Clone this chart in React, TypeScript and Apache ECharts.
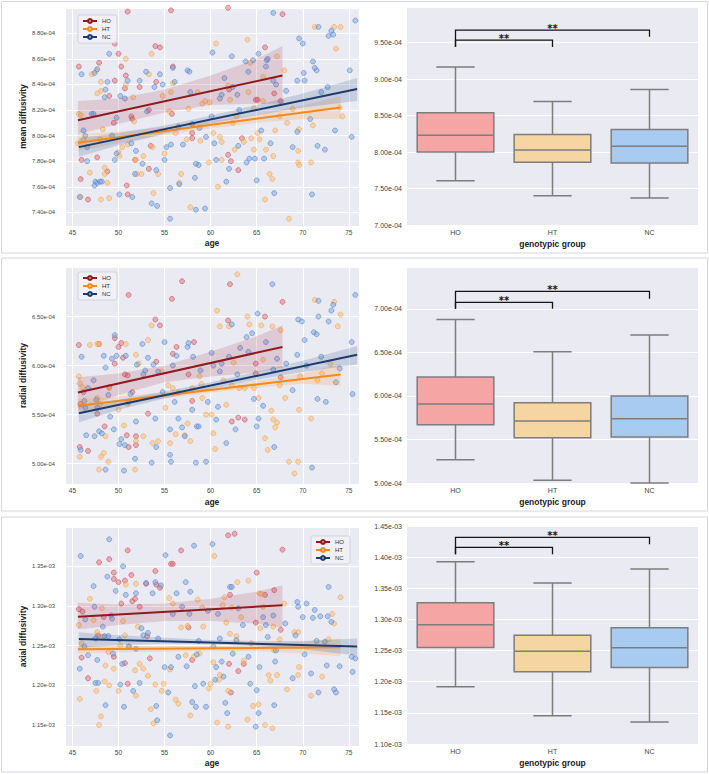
import React, { useEffect, useRef } from 'react';
import * as echarts from 'echarts';

const FONT = '"Liberation Sans", Arial, sans-serif';
const GROUPS = ['HO', 'HT', 'NC'];

// ---------- tick labels ----------
const AGE_TICKS = [45, 50, 55, 60, 65, 70, 75];
const MD_SCATTER_TICKS = [7.4, 7.6, 7.8, 8.0, 8.2, 8.4, 8.6, 8.8];
const RD_SCATTER_TICKS = [5.0, 5.5, 6.0, 6.5];
const AD_SCATTER_TICKS = [1.15, 1.2, 1.25, 1.3, 1.35];
const MD_BOX_TICKS = [7.0, 7.5, 8.0, 8.5, 9.0, 9.5];
const RD_BOX_TICKS = [5.0, 5.5, 6.0, 6.5, 7.0];
const AD_BOX_TICKS = [1.1, 1.15, 1.2, 1.25, 1.3, 1.35, 1.4, 1.45];

// ---------- mean diffusivity (x1e-4) ----------
const md_HO = [[45.7,8.54],[45.9,7.66],[46.0,7.81],[46.7,7.50],[47.9,8.57],[47.7,7.83],[49.6,8.72],[49.6,8.43],[49.0,8.31],[49.5,8.10],[48.8,7.72],[50.0,8.64],[50.3,8.54],[51.0,8.97],[50.8,8.47],[50.7,8.37],[50.9,7.61],[51.0,7.54],[51.4,8.15],[51.5,8.13],[51.8,7.81],[52.3,8.38],[53.3,8.20],[53.5,7.92],[53.3,7.74],[54.0,8.70],[54.5,8.69],[54.1,8.42],[55.7,8.98],[55.9,8.54],[55.8,8.17],[58.0,8.02],[58.0,7.98],[58.0,8.09],[61.9,9.00],[61.9,7.85],[62.2,7.80],[62.0,8.36],[63.0,7.73],[63.4,7.98],[65.9,8.69],[64.9,8.28],[65.1,8.28],[66.9,8.33],[67.6,8.27],[67.8,8.95]];
const md_HT = [[45.7,8.17],[45.9,8.16],[45.6,7.94],[46.2,7.97],[45.9,7.52],[46.9,7.71],[47.1,8.48],[47.6,8.51],[47.7,8.33],[48.1,8.35],[48.1,8.42],[48.3,8.05],[48.0,7.97],[48.5,7.75],[48.5,7.70],[48.8,7.63],[48.1,7.50],[49.0,7.51],[50.1,7.84],[50.0,7.87],[50.8,8.60],[50.8,8.40],[51.0,7.93],[50.4,7.91],[51.6,8.30],[51.7,8.11],[51.9,7.81],[52.0,7.70],[52.5,7.70],[52.7,7.84],[53.3,8.48],[53.6,8.64],[53.8,7.55],[53.7,7.91],[54.3,7.70],[54.8,8.31],[55.0,7.86],[55.5,8.19],[55.7,8.34],[55.9,8.41],[56.2,8.02],[56.6,7.63],[56.8,7.70],[57.4,7.97],[57.6,8.21],[57.8,7.44],[58.6,8.34],[58.9,7.96],[59.1,8.25],[59.4,8.27],[59.8,7.79],[59.9,8.26],[60.3,8.02],[60.6,8.72],[60.8,7.60],[61.0,7.99],[61.2,7.81],[61.2,7.95],[61.9,8.39],[62.1,8.28],[62.4,8.10],[62.6,7.89],[62.8,8.15],[63.6,7.95],[64.0,8.75],[64.1,8.34],[64.3,8.57],[64.4,7.98],[64.7,8.21],[64.7,7.89],[65.1,8.02],[65.3,7.97],[65.7,8.27],[65.9,7.50],[65.7,8.46],[66.0,7.89],[66.4,7.70],[66.7,7.66],[66.8,7.84],[67.0,8.04],[67.2,8.62],[67.5,8.15],[68.0,8.51],[68.3,8.10],[68.5,7.35],[68.9,8.21],[69.5,7.79],[69.6,7.77],[69.5,7.88],[69.6,8.05],[70.9,7.79],[71.1,8.08],[71.3,8.85],[73.6,8.68],[73.4,8.85],[74.1,8.85],[74.0,8.22],[74.3,8.15]];
const md_NC = [[46.0,8.48],[45.8,7.52],[46.2,8.04],[46.4,8.00],[46.6,7.80],[46.6,7.91],[47.1,8.17],[47.3,8.17],[47.4,8.49],[47.7,8.52],[47.5,7.64],[47.7,7.63],[48.0,7.64],[48.2,7.64],[47.4,7.61],[48.5,8.30],[48.6,8.36],[48.8,8.42],[49.0,8.64],[49.3,8.00],[49.6,7.81],[49.8,8.14],[49.8,7.86],[50.1,7.54],[50.2,8.31],[50.7,8.29],[51.0,8.43],[51.4,7.94],[51.5,7.52],[51.8,7.70],[51.9,7.88],[52.3,8.43],[52.6,7.78],[53.0,8.50],[53.1,8.19],[53.6,7.47],[53.9,8.38],[54.1,7.73],[54.2,7.45],[54.5,8.48],[54.8,8.40],[55.0,7.81],[55.2,7.91],[55.6,7.35],[55.6,7.59],[55.7,7.93],[55.9,8.53],[56.1,8.42],[56.5,8.07],[56.6,7.62],[57.0,7.93],[57.5,8.51],[57.7,8.50],[57.8,8.34],[58.3,7.67],[58.4,7.42],[58.4,7.78],[58.7,7.77],[58.8,8.06],[59.4,7.43],[59.5,7.99],[60.1,8.15],[60.2,8.65],[60.4,7.94],[60.6,7.81],[61.0,8.29],[61.2,8.32],[61.5,8.45],[61.7,7.64],[62.0,7.74],[62.3,8.62],[62.4,8.38],[62.9,8.32],[63.0,7.92],[63.1,8.20],[63.8,8.58],[63.9,7.79],[64.1,8.50],[64.2,7.82],[64.6,8.59],[64.8,7.82],[65.0,7.65],[65.2,8.64],[65.5,8.04],[65.8,7.82],[66.0,8.54],[66.1,8.59],[66.2,8.60],[66.5,7.94],[66.8,8.96],[66.8,8.43],[66.9,7.55],[67.1,8.40],[68.2,8.35],[68.9,7.91],[69.4,8.03],[69.4,8.43],[69.6,8.76],[70.0,8.72],[70.1,8.49],[70.2,8.43],[70.8,8.13],[71.0,7.54],[71.1,8.58],[71.3,8.53],[71.5,8.51],[71.6,7.92],[71.7,8.85],[72.0,8.34],[72.4,7.89],[72.7,8.38],[72.8,8.78],[73.1,8.82],[73.3,8.79],[73.5,8.04],[75.1,8.51],[75.3,7.99],[75.7,8.90]];
const md_line_HO = [[45.6, 8.12], [67.8, 8.47]];
const md_line_HT = [[45.6, 7.945], [74.1, 8.22]];
const md_line_NC = [[45.7, 7.91], [75.9, 8.365]];
const md_band_HO = [[45.6,8.01,8.27],[50,8.09,8.29],[55,8.18,8.36],[60,8.24,8.47],[65,8.25,8.60],[67.8,8.25,8.70]];
const md_band_HT = [[45.6,7.88,8.01],[50,7.94,8.03],[55,8.005,8.065],[60,8.055,8.11],[65,8.10,8.165],[70,8.13,8.235],[74.1,8.13,8.31]];
const md_band_NC = [[45.7,7.835,7.98],[50,7.925,8.02],[55,8.015,8.08],[60,8.095,8.155],[65,8.16,8.24],[70,8.22,8.33],[75.9,8.27,8.45]];
const md_box = [[7.606, 8.00, 8.23, 8.538, 9.167], [7.40, 7.86, 8.03, 8.24, 8.694], [7.37, 7.85, 8.08, 8.31, 8.86]];
const md_brackets = [[0, 1, 9.537, 9.44, 9.44], [0, 2, 9.674, 9.44, 9.583]];

// ---------- radial diffusivity (x1e-4) ----------
const rd_HO = [[45.7,6.21],[45.8,5.17],[45.9,5.61],[46.2,5.73],[46.7,5.13],[47.9,6.22],[47.7,5.51],[48.5,5.38],[49.0,5.78],[49.6,6.02],[49.6,6.28],[50.0,6.19],[50.3,6.23],[50.5,6.08],[50.7,5.91],[51.0,5.90],[51.1,6.72],[50.9,5.29],[51.1,5.17],[51.5,5.73],[51.9,5.28],[51.9,5.19],[53.2,5.51],[54.0,6.47],[54.5,6.41],[54.1,6.04],[55.8,6.68],[55.9,6.12],[56.3,6.19],[56.9,6.86],[57.6,5.91],[58.2,6.24],[58.0,5.64],[61.9,6.46],[62.1,6.83],[62.3,5.43],[63.0,5.47],[63.7,5.45],[64.9,6.02],[64.9,5.92],[65.9,6.50],[67.6,5.88],[67.8,6.65]];
const rd_HT = [[45.7,5.89],[45.8,5.82],[45.8,5.07],[46.1,5.78],[46.9,6.21],[47.7,6.22],[47.9,6.22],[47.7,5.67],[47.9,4.94],[48.0,5.61],[48.1,5.07],[48.4,5.11],[48.6,5.28],[48.9,5.02],[49.0,5.77],[50.0,5.55],[50.6,5.39],[50.8,6.22],[51.0,5.61],[51.8,4.94],[51.9,5.23],[51.9,6.11],[52.2,6.02],[52.7,5.28],[53.2,6.26],[53.6,6.41],[53.7,5.21],[54.3,5.23],[54.7,5.94],[55.1,5.57],[55.4,5.80],[55.6,5.21],[55.9,5.77],[56.2,5.30],[56.5,5.73],[57.2,5.29],[57.5,5.41],[57.8,5.23],[58.0,5.77],[58.8,5.89],[59.0,5.81],[59.1,5.67],[59.5,5.50],[60.1,5.50],[60.3,5.31],[60.5,5.15],[60.7,6.56],[61.0,6.40],[61.4,5.85],[61.7,5.60],[62.0,6.40],[62.3,5.80],[62.5,6.03],[62.9,6.93],[63.1,5.77],[63.7,5.77],[64.0,6.50],[64.2,6.42],[64.7,5.77],[65.2,5.67],[65.5,6.41],[65.7,6.06],[65.9,5.26],[66.2,5.14],[66.6,5.54],[66.7,6.40],[66.8,5.45],[67.0,5.37],[67.2,5.42],[67.5,5.80],[67.6,6.36],[68.1,5.67],[68.5,5.02],[69.1,4.90],[69.5,5.02],[69.6,5.55],[69.7,5.89],[70.9,5.46],[71.3,6.67],[71.6,5.85],[72.1,5.92],[73.0,6.02],[73.4,6.65],[73.8,6.40],[74.1,6.52]];
const rd_NC = [[46.0,6.09],[45.9,5.14],[46.3,5.64],[46.4,5.57],[46.5,5.29],[46.7,5.77],[47.3,5.85],[47.4,5.28],[47.6,5.65],[47.7,5.57],[47.9,5.33],[48.2,5.31],[48.4,6.10],[48.6,5.98],[48.6,4.94],[48.9,5.70],[49.1,5.48],[49.3,6.07],[49.5,5.35],[49.6,6.31],[49.8,6.10],[50.1,5.20],[50.3,5.25],[50.7,5.19],[50.6,4.93],[50.8,6.10],[51.1,5.63],[51.3,5.71],[51.8,5.05],[51.9,5.43],[52.0,6.01],[52.6,6.22],[52.7,5.91],[52.9,5.95],[53.2,6.08],[53.6,5.01],[53.8,6.01],[54.0,5.46],[54.1,5.17],[54.3,5.94],[54.8,5.73],[55.0,6.24],[55.6,5.35],[55.6,5.09],[55.7,5.02],[55.9,6.00],[56.1,5.63],[56.3,6.10],[56.5,5.46],[56.9,5.37],[57.2,5.28],[57.5,6.19],[57.6,6.23],[58.0,5.55],[58.1,6.09],[58.4,5.01],[58.5,5.38],[58.7,5.38],[58.9,5.95],[59.5,5.02],[59.7,5.63],[60.1,6.13],[60.3,6.00],[60.6,5.45],[60.8,5.58],[61.0,5.94],[61.2,6.02],[61.7,5.21],[62.0,6.09],[62.3,6.42],[62.7,5.35],[62.9,5.91],[63.2,6.18],[63.9,6.29],[64.1,6.14],[64.5,6.33],[64.7,5.66],[65.0,5.38],[65.1,6.53],[65.2,5.46],[65.7,5.59],[66.0,6.24],[66.7,6.83],[66.8,5.96],[66.9,5.17],[67.2,6.07],[68.2,6.02],[68.9,5.75],[69.4,6.11],[69.5,6.47],[69.9,6.45],[70.2,6.26],[70.4,6.00],[71.0,4.96],[71.2,6.34],[71.5,6.32],[71.6,5.66],[71.7,6.66],[71.7,6.50],[72.0,6.09],[72.5,5.63],[72.8,6.45],[73.1,6.56],[73.3,6.62],[73.6,5.83],[74.0,5.97],[75.3,6.24],[75.4,5.71],[75.7,6.72]];
const rd_line_HO = [[45.6, 5.725], [67.8, 6.19]];
const rd_line_HT = [[45.6, 5.59], [74.1, 5.91]];
const rd_line_NC = [[45.7, 5.515], [75.9, 6.11]];
const rd_band_HO = [[45.6,5.55,5.88],[50,5.70,5.92],[55,5.83,6.00],[60,5.89,6.14],[65,5.93,6.30],[67.8,5.98,6.41]];
const rd_band_HT = [[45.6,5.525,5.66],[50,5.595,5.685],[55,5.665,5.725],[60,5.725,5.78],[65,5.775,5.845],[70,5.815,5.92],[74.1,5.795,6.02]];
const rd_band_NC = [[45.7,5.42,5.59],[50,5.55,5.65],[55,5.665,5.735],[60,5.765,5.83],[65,5.855,5.935],[70,5.935,6.05],[75.9,6.01,6.20]];
const rd_box = [[5.268, 5.669, 5.906, 6.216, 6.878], [5.031, 5.520, 5.711, 5.922, 6.507], [5.0, 5.528, 5.738, 5.998, 6.698]];
const rd_brackets = [[0, 1, 7.073, 7.0, 7.0], [0, 2, 7.199, 7.0, 7.115]];

// ---------- axial diffusivity (x1e-3) ----------
const ad_HO = [[45.7,1.296],[46.0,1.235],[46.1,1.293],[46.7,1.209],[47.9,1.355],[47.8,1.263],[48.4,1.286],[49.0,1.359],[49.5,1.342],[49.5,1.334],[49.5,1.236],[50.0,1.330],[50.3,1.303],[50.7,1.332],[50.7,1.228],[51.0,1.370],[51.0,1.202],[51.4,1.339],[51.5,1.306],[51.8,1.309],[52.3,1.299],[53.0,1.328],[53.1,1.262],[53.4,1.234],[54.0,1.344],[54.1,1.327],[54.5,1.323],[55.7,1.353],[55.9,1.353],[56.8,1.370],[57.6,1.273],[58.0,1.232],[61.9,1.389],[62.6,1.391],[62.1,1.314],[62.0,1.227],[62.2,1.191],[63.0,1.218],[63.6,1.227],[65.0,1.342],[64.9,1.279],[65.9,1.314],[66.9,1.320],[67.6,1.270],[67.8,1.371]];
const ad_HT = [[45.7,1.276],[45.8,1.183],[46.0,1.253],[46.9,1.309],[47.3,1.282],[47.6,1.193],[47.7,1.267],[47.9,1.150],[48.1,1.161],[48.2,1.297],[48.3,1.261],[48.5,1.205],[48.6,1.225],[48.9,1.242],[49.0,1.200],[49.5,1.221],[50.0,1.193],[50.2,1.250],[50.5,1.281],[50.7,1.263],[50.8,1.327],[51.2,1.249],[51.8,1.219],[51.9,1.328],[51.9,1.187],[52.1,1.274],[52.3,1.227],[52.7,1.221],[53.2,1.212],[53.5,1.170],[53.8,1.152],[54.0,1.201],[54.7,1.193],[54.9,1.202],[55.5,1.310],[55.6,1.220],[55.9,1.303],[56.2,1.182],[56.5,1.177],[56.8,1.273],[57.3,1.238],[57.5,1.275],[57.8,1.162],[58.2,1.236],[58.6,1.308],[58.8,1.240],[59.1,1.298],[59.2,1.274],[59.8,1.196],[60.0,1.202],[60.3,1.229],[60.4,1.363],[60.7,1.153],[60.9,1.207],[61.0,1.213],[61.3,1.301],[61.5,1.311],[61.7,1.279],[61.9,1.148],[61.9,1.193],[62.1,1.265],[62.3,1.298],[62.8,1.262],[62.9,1.330],[63.3,1.286],[63.6,1.231],[64.0,1.157],[64.1,1.332],[64.4,1.253],[64.6,1.174],[65.2,1.176],[65.3,1.316],[65.4,1.272],[65.5,1.315],[65.7,1.299],[65.9,1.150],[66.3,1.213],[66.5,1.206],[66.7,1.146],[66.8,1.274],[66.9,1.244],[67.2,1.213],[67.5,1.258],[68.0,1.303],[68.3,1.195],[69.1,1.267],[69.5,1.267],[69.5,1.213],[69.6,1.223],[70.9,1.187],[72.1,1.211],[72.8,1.258],[73.2,1.290],[73.4,1.278],[74.1,1.311]];
const ad_NC = [[45.9,1.363],[45.8,1.221],[46.3,1.249],[46.4,1.283],[46.7,1.238],[47.3,1.325],[47.4,1.299],[47.5,1.203],[47.8,1.203],[47.5,1.259],[47.7,1.232],[48.3,1.274],[48.5,1.262],[48.6,1.175],[48.8,1.337],[48.9,1.262],[49.0,1.384],[49.2,1.288],[49.3,1.284],[49.4,1.240],[49.7,1.319],[50.1,1.258],[50.2,1.201],[50.4,1.227],[50.5,1.350],[50.6,1.173],[50.8,1.314],[51.1,1.249],[51.6,1.193],[51.9,1.316],[51.9,1.246],[52.3,1.203],[52.5,1.272],[52.7,1.263],[53.0,1.329],[53.2,1.266],[53.7,1.316],[54.0,1.330],[54.1,1.174],[54.2,1.156],[54.3,1.259],[54.6,1.326],[55.0,1.223],[55.1,1.364],[55.4,1.191],[55.6,1.137],[55.7,1.223],[55.9,1.290],[56.3,1.316],[56.5,1.236],[56.9,1.299],[57.3,1.330],[57.4,1.224],[57.7,1.290],[57.8,1.318],[58.0,1.179],[58.2,1.376],[58.3,1.199],[58.4,1.173],[58.5,1.239],[58.7,1.256],[59.2,1.202],[59.5,1.173],[59.7,1.294],[60.2,1.378],[60.3,1.249],[60.5,1.207],[60.6,1.223],[60.8,1.290],[61.0,1.259],[61.2,1.230],[61.4,1.211],[61.6,1.178],[61.8,1.165],[62.1,1.324],[62.3,1.324],[62.4,1.240],[62.8,1.257],[63.0,1.297],[63.5,1.276],[64.1,1.236],[64.3,1.202],[64.9,1.148],[65.0,1.194],[65.2,1.165],[65.3,1.223],[65.7,1.286],[66.0,1.276],[66.2,1.261],[66.8,1.288],[66.9,1.175],[67.0,1.230],[67.1,1.244],[68.1,1.278],[68.9,1.209],[69.2,1.263],[69.4,1.305],[69.5,1.299],[70.0,1.286],[70.2,1.239],[70.4,1.303],[70.9,1.215],[71.1,1.285],[71.3,1.295],[71.5,1.256],[71.7,1.191],[71.9,1.287],[72.4,1.255],[72.6,1.225],[72.7,1.287],[72.8,1.324],[73.1,1.280],[73.4,1.195],[73.6,1.191],[74.0,1.224],[75.3,1.236],[75.4,1.217],[75.7,1.234]];
const ad_line_HO = [[45.6, 1.2865], [67.8, 1.301]];
const ad_line_HT = [[45.6, 1.2455], [74.1, 1.248]];
const ad_line_NC = [[45.7, 1.2585], [75.9, 1.249]];
const ad_band_HO = [[45.6,1.2705,1.304],[50,1.276,1.302],[55,1.281,1.303],[60,1.281,1.309],[65,1.278,1.318],[67.8,1.273,1.326]];
const ad_band_HT = [[45.6,1.2405,1.2505],[55,1.2425,1.2495],[60,1.2435,1.2495],[65,1.243,1.251],[70,1.240,1.255],[74.1,1.237,1.259]];
const ad_band_NC = [[45.7,1.2475,1.267],[50,1.2505,1.263],[55,1.2525,1.260],[60,1.2515,1.257],[65,1.2495,1.256],[70,1.2455,1.256],[75.9,1.2375,1.259]];
const ad_box = [[1.1919, 1.255, 1.2913, 1.3266, 1.3928], [1.1454, 1.216, 1.2491, 1.2747, 1.3586], [1.1353, 1.2229, 1.2544, 1.2865, 1.381]];
const ad_brackets = [[0, 1, 1.4158, 1.4046, 1.4046], [0, 2, 1.4318, 1.4046, 1.4206]];

// ---------- styles ----------
const DOT_FILL: Record<string, string> = { HO: 'rgba(222,104,112,0.6)', HT: 'rgba(252,186,102,0.6)', NC: 'rgba(112,160,222,0.6)' };
const DOT_EDGE: Record<string, string> = { HO: 'rgba(200,72,82,0.85)', HT: 'rgba(240,160,70,0.85)', NC: 'rgba(80,128,200,0.85)' };
const LINE_COLOR: Record<string, string> = { HO: '#8e1b1f', HT: '#f28a1c', NC: '#1d3c6c' };
const BAND_COLOR: Record<string, string> = { HO: 'rgba(160,50,70,0.17)', HT: 'rgba(245,150,50,0.2)', NC: 'rgba(50,90,150,0.2)' };
const LEGEND_FILL: Record<string, string> = { HO: '#e49a9e', HT: '#fbcf95', NC: '#9dbfe6' };
const BOX_FILL = ['#f4a5a4', '#f5d5a1', '#a8ccf1'];
const BOX_EDGE = '#7d7d7d';
const BG = '#eaeaf2';

const inTicks = (ticks: number[], v: number) => ticks.some((t) => Math.abs(t - v) < 1e-6);

function scatterX(g: number, nameGap: number) {
  return {
    type: 'value', gridIndex: g, min: 44.2, max: 76.1, minInterval: 5, maxInterval: 5,
    name: 'age', nameLocation: 'middle', nameGap,
    nameTextStyle: { fontWeight: 'bold', fontSize: 8.5, color: '#222', fontFamily: FONT },
    axisLine: { show: false }, axisTick: { show: false },
    axisLabel: { fontSize: 6.5, color: '#444', margin: 2.5, fontFamily: FONT,
      formatter: (v: number) => (inTicks(AGE_TICKS, v) ? String(Math.round(v)) : '') },
    splitLine: { show: true, lineStyle: { color: '#ffffff', width: 1 } },
  };
}
function scatterY(g: number, min: number, max: number, step: number, ticks: number[], exp: string, name: string) {
  return {
    type: 'value', gridIndex: g, min, max, minInterval: step, maxInterval: step,
    name, nameLocation: 'middle', nameGap: 38,
    nameTextStyle: { fontWeight: 'bold', fontSize: 8.5, color: '#222', fontFamily: FONT },
    axisLine: { show: false }, axisTick: { show: false },
    axisLabel: { fontSize: 5.8, color: '#444', margin: 10, fontFamily: FONT,
      formatter: (v: number) => (inTicks(ticks, v) ? v.toFixed(2) + exp : '') },
    splitLine: { show: true, lineStyle: { color: '#ffffff', width: 1 } },
  };
}
function boxX(g: number) {
  return {
    type: 'category', gridIndex: g, data: GROUPS,
    name: 'genotypic group', nameLocation: 'middle', nameGap: 14,
    nameTextStyle: { fontWeight: 'bold', fontSize: 8.5, color: '#222', fontFamily: FONT },
    axisLine: { show: false }, axisTick: { show: false },
    axisLabel: { fontSize: 7, color: '#444', margin: 4, fontFamily: FONT },
    splitLine: { show: false },
  };
}
function boxY(g: number, min: number, max: number, step: number, ticks: number[], exp: string) {
  return {
    type: 'value', gridIndex: g, min, max, minInterval: step, maxInterval: step,
    axisLine: { show: false }, axisTick: { show: false },
    axisLabel: { fontSize: 7, color: '#444', margin: 5, fontFamily: FONT,
      formatter: (v: number) => (inTicks(ticks, v) ? v.toFixed(2) + exp : '') },
    splitLine: { show: true, lineStyle: { color: '#ffffff', width: 1 } },
  };
}

function scatterSeries(g: number, key: string, data: number[][]) {
  return {
    type: 'scatter', name: key + ' subjects', xAxisIndex: g, yAxisIndex: g, data, symbolSize: 5, z: 2, silent: true,
    itemStyle: { color: DOT_FILL[key], borderColor: DOT_EDGE[key], borderWidth: 0.8 },
  };
}
function bandSeries(g: number, key: string, band: number[][]) {
  return {
    type: 'custom', xAxisIndex: g, yAxisIndex: g, z: 3, silent: true,
    data: [[band[0][0], band[0][1]]],
    renderItem: (_p: any, api: any) => {
      const up = band.map((b) => api.coord([b[0], b[2]]));
      const lo = band.slice().reverse().map((b) => api.coord([b[0], b[1]]));
      return { type: 'polygon', shape: { points: up.concat(lo) }, style: { fill: BAND_COLOR[key] } };
    },
  };
}
function lineSeries(g: number, key: string, data: number[][]) {
  return {
    type: 'line', name: key, xAxisIndex: g, yAxisIndex: g, data, z: 4, silent: true,
    showSymbol: false, symbol: 'circle', symbolSize: 5,
    lineStyle: { color: LINE_COLOR[key], width: 2 },
    itemStyle: { color: LEGEND_FILL[key], borderColor: LINE_COLOR[key], borderWidth: 1 },
  };
}
function boxSeries(g: number, rows: number[][]) {
  return {
    type: 'custom', xAxisIndex: g, yAxisIndex: g, z: 3, silent: true,
    encode: { x: 0, y: [1, 2, 3, 4, 5] },
    data: rows.map((r, i) => [i, ...r]),
    renderItem: (params: any, api: any) => {
      const i = api.value(0);
      const lo = api.coord([i, api.value(1)]);
      const q1 = api.coord([i, api.value(2)]);
      const md = api.coord([i, api.value(3)]);
      const q3 = api.coord([i, api.value(4)]);
      const hi = api.coord([i, api.value(5)]);
      const cx = lo[0];
      const bw = api.size([1, 0])[0] * 0.79;
      const cw = bw / 2;
      const st = () => ({ stroke: BOX_EDGE, lineWidth: 1.5 });
      return {
        type: 'group',
        children: [
          { type: 'line', shape: { x1: cx, y1: hi[1], x2: cx, y2: q3[1] }, style: st() },
          { type: 'line', shape: { x1: cx, y1: q1[1], x2: cx, y2: lo[1] }, style: st() },
          { type: 'line', shape: { x1: cx - cw / 2, y1: hi[1], x2: cx + cw / 2, y2: hi[1] }, style: st() },
          { type: 'line', shape: { x1: cx - cw / 2, y1: lo[1], x2: cx + cw / 2, y2: lo[1] }, style: st() },
          { type: 'rect', shape: { x: cx - bw / 2, y: q3[1], width: bw, height: q1[1] - q3[1] },
            style: { fill: BOX_FILL[params.dataIndex], stroke: BOX_EDGE, lineWidth: 1.5 } },
          { type: 'line', shape: { x1: cx - bw / 2, y1: md[1], x2: cx + bw / 2, y2: md[1] }, style: st() },
        ],
      };
    },
  };
}
function bracketSeries(g: number, rows: number[][]) {
  return {
    type: 'custom', xAxisIndex: g, yAxisIndex: g, z: 5, silent: true,
    encode: { x: [0, 1], y: [2, 3, 4] },
    data: rows,
    renderItem: (_p: any, api: any) => {
      const a = api.coord([api.value(0), api.value(2)]);
      const b = api.coord([api.value(1), api.value(2)]);
      const la = api.coord([api.value(0), api.value(3)]);
      const rb = api.coord([api.value(1), api.value(4)]);
      return {
        type: 'group',
        children: [
          { type: 'polyline', shape: { points: [[a[0], la[1]], [a[0], a[1]], [b[0], b[1]], [b[0], rb[1]]] },
            style: { stroke: '#151515', lineWidth: 1.3, fill: null } },
          { type: 'text', x: (a[0] + b[0]) / 2, y: a[1] + 3,
            style: { text: '**', fill: '#151515', font: 'bold 10px "DejaVu Sans"', align: 'center', verticalAlign: 'bottom' } },
        ],
      };
    },
  };
}
function legend(left: number, top: number) {
  return {
    show: true, orient: 'vertical', left, top, data: GROUPS, selectedMode: false,
    itemWidth: 14, itemHeight: 5, itemGap: 2, padding: [3, 6, 3, 4],
    backgroundColor: 'rgba(240,240,246,0.92)', borderColor: '#cdcdd5', borderWidth: 0.8, borderRadius: 2,
    textStyle: { fontSize: 6, color: '#333', fontFamily: FONT },
  };
}

export default function App() {
  const ref = useRef<HTMLDivElement>(null);
  useEffect(() => {
    if (!ref.current) return;
    const chart = echarts.init(ref.current, null, { renderer: 'svg' });
    const grids = [
      { left: 65, top: 7, width: 294, height: 219 },
      { left: 407, top: 7, width: 291, height: 218 },
      { left: 65, top: 267, width: 294, height: 217 },
      { left: 407, top: 267, width: 291, height: 216 },
      { left: 65, top: 527, width: 294, height: 219 },
      { left: 407, top: 526, width: 291, height: 218 },
    ].map((g) => ({ ...g, show: true, backgroundColor: BG, borderWidth: 0, containLabel: false }));

    const panels = [
      { g: 0, pts: [md_HO, md_HT, md_NC], lines: [md_line_HO, md_line_HT, md_line_NC], bands: [md_band_HO, md_band_HT, md_band_NC] },
      { g: 2, pts: [rd_HO, rd_HT, rd_NC], lines: [rd_line_HO, rd_line_HT, rd_line_NC], bands: [rd_band_HO, rd_band_HT, rd_band_NC] },
      { g: 4, pts: [ad_HO, ad_HT, ad_NC], lines: [ad_line_HO, ad_line_HT, ad_line_NC], bands: [ad_band_HO, ad_band_HT, ad_band_NC] },
    ];
    const series: any[] = [];
    panels.forEach((p) => {
      GROUPS.forEach((k, i) => series.push(scatterSeries(p.g, k, p.pts[i])));
      GROUPS.forEach((k, i) => series.push(bandSeries(p.g, k, p.bands[i])));
      GROUPS.forEach((k, i) => series.push(lineSeries(p.g, k, p.lines[i])));
    });
    series.push(boxSeries(1, md_box), bracketSeries(1, md_brackets));
    series.push(boxSeries(3, rd_box), bracketSeries(3, rd_brackets));
    series.push(boxSeries(5, ad_box), bracketSeries(5, ad_brackets));

    const frame = (y: number, h: number) => ({
      type: 'rect', z: -1, silent: true, shape: { x: 1.5, y, width: 706, height: h },
      style: { fill: 'none', stroke: '#d6d6de', lineWidth: 1 },
    });

    chart.setOption({
      animation: false,
      textStyle: { fontFamily: FONT },
      grid: grids,
      xAxis: [scatterX(0, 12), boxX(1), scatterX(2, 13), boxX(3), scatterX(4, 12), boxX(5)],
      yAxis: [
        scatterY(0, 7.293, 9.006, 0.2, MD_SCATTER_TICKS, 'e-04', 'mean diffusivity'),
        boxY(1, 7.0, 9.99, 0.5, MD_BOX_TICKS, 'e-04'),
        scatterY(2, 4.793, 7.005, 0.5, RD_SCATTER_TICKS, 'e-04', 'radial diffusivity'),
        boxY(3, 5.0, 7.48, 0.5, RD_BOX_TICKS, 'e-04'),
        scatterY(4, 1.1236, 1.3995, 0.05, AD_SCATTER_TICKS, 'e-03', 'axial diffusivity'),
        boxY(5, 1.1, 1.45, 0.05, AD_BOX_TICKS, 'e-03'),
      ],
      legend: [legend(78, 15), legend(78, 272), legend(311, 536)],
      graphic: [frame(1.5, 251.5), frame(258, 253), frame(517, 255)],
      series,
    });
    return () => chart.dispose();
  }, []);
  return <div ref={ref} style={{ position: 'absolute', left: 0, top: 0, width: 709, height: 774, background: '#fff' }} />;
}
